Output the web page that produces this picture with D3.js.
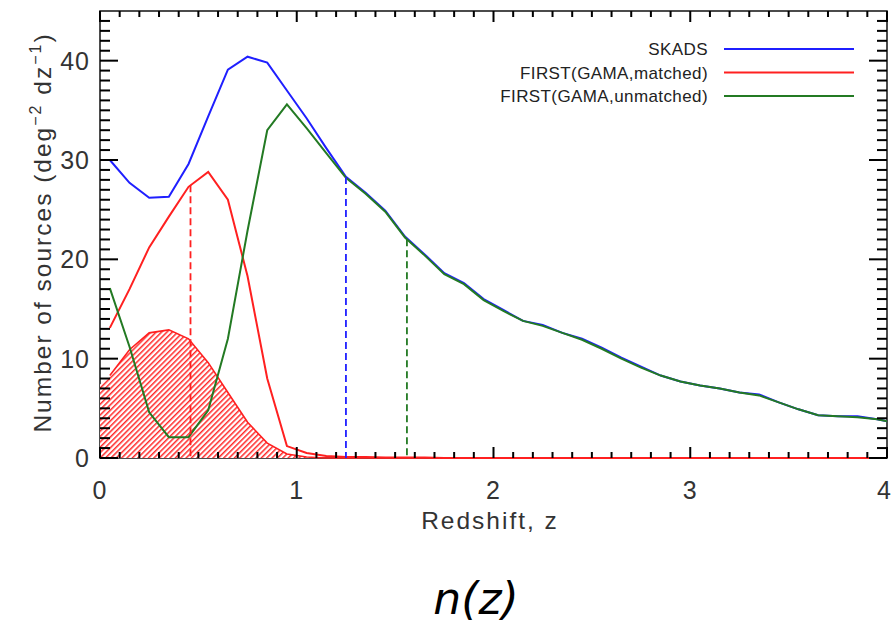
<!DOCTYPE html>
<html>
<head>
	<title>n(z)</title>
	<script src="https://d3js.org/d3.v7.min.js"></script>
	<style>
		body { margin: 0; background: #fff; }
		text { font-family: "Liberation Sans", Arial, sans-serif; fill: #333; }
		.tick-label { font-size: 25px; letter-spacing: 1px; }
		.axis-title { font-size: 24.5px; letter-spacing: 2px; }
		.legend text { font-size: 17px; letter-spacing: 0.4px; fill: #222; }
		#title { font-family: "DejaVu Sans", Verdana, sans-serif; font-style: italic; font-size: 44px; fill: #000; }
	</style>
</head>
<body>
	<div id="chart"></div>

	<script>

		// redshift bin centres
		var zBins = [0.05, 0.15, 0.25, 0.35, 0.45, 0.55, 0.65, 0.75, 0.85, 0.95,
			1.05, 1.15, 1.25, 1.35, 1.45, 1.55, 1.65, 1.75, 1.85, 1.95,
			2.05, 2.15, 2.25, 2.35, 2.45, 2.55, 2.65, 2.75, 2.85, 2.95,
			3.05, 3.15, 3.25, 3.35, 3.45, 3.55, 3.65, 3.75, 3.85, 3.95, 4.05];

		var skads = [30.0, 27.7, 26.2, 26.3, 29.6, 34.4, 39.1, 40.4, 39.8, 37.0,
			34.2, 31.2, 28.3, 26.7, 24.9, 22.3, 20.5, 18.6, 17.6, 16.0,
			14.9, 13.8, 13.4, 12.6, 12.0, 11.1, 10.1, 9.2, 8.3, 7.7,
			7.3, 7.0, 6.6, 6.4, 5.6, 4.9, 4.3, 4.2, 4.2, 3.9, 3.5];

		var matched = [13.1, 17.0, 21.2, 24.3, 27.3, 28.8, 26.0, 18.3, 8.0, 1.2,
			0.5, 0.2, 0.1, 0.1, 0.05, 0.05, 0.05, 0, 0, 0,
			0, 0, 0, 0, 0, 0, 0, 0, 0, 0,
			0, 0, 0, 0, 0, 0, 0, 0, 0, 0, 0];

		var unmatched = [17.1, 11.2, 4.6, 2.1, 2.1, 4.8, 12.0, 22.9, 33.0, 35.6,
			33.2, 30.7, 28.2, 26.6, 24.8, 22.2, 20.4, 18.5, 17.5, 15.9,
			14.8, 13.8, 13.3, 12.6, 11.9, 11.0, 10.0, 9.1, 8.3, 7.7,
			7.3, 7.0, 6.6, 6.3, 5.6, 4.9, 4.3, 4.2, 4.1, 3.9, 3.5];

		// hatched distribution (starts at the axis)
		var hatchZ = [0.0, 0.05, 0.15, 0.25, 0.35, 0.45, 0.55, 0.65, 0.75, 0.85, 0.95, 1.05, 1.15, 4.05];
		var hatched = [7.4, 8.3, 10.9, 12.6, 12.9, 12.0, 9.6, 6.6, 3.6, 1.5, 0.4, 0.1, 0.0, 0.0];

		// median markers, same order as the series
		var medianZ = [1.25, 0.46, 1.56];

		var seriesNames = ["SKADS", "FIRST(GAMA,matched)", "FIRST(GAMA,unmatched)"];
		var seriesValues = [skads, matched, unmatched];
		var colors = ["#1f1fff", "#ff2020", "#237a23"];

		var xTicks = [0, 1, 2, 3, 4];
		var yTicks = [0, 10, 20, 30, 40];
		var xMinorTicks = [0.1, 0.2, 0.3, 0.4, 0.5, 0.6, 0.7, 0.8, 0.9, 1.1, 1.2, 1.3, 1.4, 1.5, 1.6, 1.7, 1.8, 1.9,
			2.1, 2.2, 2.3, 2.4, 2.5, 2.6, 2.7, 2.8, 2.9, 3.1, 3.2, 3.3, 3.4, 3.5, 3.6, 3.7, 3.8, 3.9];
		var yMinorTicks = [1, 2, 3, 4, 5, 6, 7, 8, 9, 11, 12, 13, 14, 15, 16, 17, 18, 19, 21, 22, 23, 24, 25, 26, 27, 28, 29,
			31, 32, 33, 34, 35, 36, 37, 38, 39, 41, 42, 43, 44];

		var W = 892, H = 628;
		var margin = {top: 11, right: 5, bottom: 170, left: 100};
		var width = W - margin.left - margin.right,
			height = H - margin.top - margin.bottom;

		var svg = d3.select("#chart").append("svg")
			.attr("width", W)
			.attr("height", H);

		var defs = svg.append("defs");
		defs.append("clipPath").attr("id", "plot-clip")
			.append("rect").attr("y", -2).attr("width", width).attr("height", height + 4);

		// diagonal hatch
		var pat = defs.append("pattern")
			.attr("id", "hatch")
			.attr("patternUnits", "userSpaceOnUse")
			.attr("width", 3.8).attr("height", 10)
			.attr("patternTransform", "rotate(45)");
		pat.append("rect").attr("width", 3.8).attr("height", 10).attr("fill", "#fff");
		pat.append("rect").attr("width", 1.5).attr("height", 10).attr("fill", "#ff2a2a");

		var g = svg.append("g")
			.attr("transform", "translate(" + margin.left + "," + margin.top + ")");

		var x = d3.scaleLinear().domain([0, 4]).range([0, 787]);
		var y = d3.scaleLinear().domain([0, 45]).range([height, 0]);

		// frame first, so the red zero line sits on top of the x axis
		g.append("rect")
			.attr("width", width).attr("height", height)
			.attr("fill", "none")
			.attr("stroke", "#111")
			.attr("stroke-width", 1.5);

		var plot = g.append("g").attr("clip-path", "url(#plot-clip)");

		// hatched area
		var hatchData = hatchZ.map(function (z, i) { return {z: z, v: hatched[i]}; });
		plot.append("path")
			.datum(hatchData)
			.attr("fill", "url(#hatch)")
			.attr("d", d3.area()
				.x(function (d) { return x(d.z); })
				.y0(y(0))
				.y1(function (d) { return y(d.v); }));

		var valueLine = d3.line()
			.x(function (d) { return x(d.z); })
			.y(function (d) { return y(d.v); });

		plot.append("path")
			.datum(hatchData.slice(1))
			.attr("fill", "none")
			.attr("stroke", colors[1])
			.attr("stroke-width", 1.6)
			.attr("d", valueLine);

		// curves
		seriesValues.forEach(function (vals, i) {
			var data = zBins.map(function (z, j) { return {z: z, v: vals[j]}; });
			plot.append("path")
				.datum(data)
				.attr("fill", "none")
				.attr("stroke", colors[i])
				.attr("stroke-width", 2)
				.attr("d", valueLine);
		});

		// dashed median lines, from curve down to axis
		medianZ.forEach(function (z, i) {
			var top = d3.scaleLinear().domain(zBins).range(seriesValues[i])(z);
			plot.append("line")
				.attr("x1", x(z)).attr("x2", x(z))
				.attr("y1", y(top)).attr("y2", y(0))
				.attr("stroke", colors[i])
				.attr("stroke-width", 1.8)
				.attr("stroke-dasharray", "7,4");
		});

		// IDL-style inward ticks on all four sides, as small filled bars
		var tickLayer = svg.append("g")
			.attr("transform", "translate(" + margin.left + "," + margin.top + ")");

		var xTickData = xTicks.map(function (v) { return {v: v, len: 11}; })
			.concat(xMinorTicks.map(function (v) { return {v: v, len: 6}; }));
		var yTickData = yTicks.map(function (v) { return {v: v, len: 18}; })
			.concat(yMinorTicks.map(function (v) { return {v: v, len: 10}; }));

		[0, height].forEach(function (edge) {
			tickLayer.selectAll(null).data(xTickData).enter().append("rect")
				.attr("x", function (d) { return x(d.v) - 1; })
				.attr("y", function (d) { return edge === 0 ? 0 : height - d.len; })
				.attr("width", 2)
				.attr("height", function (d) { return d.len; })
				.attr("fill", "#000");
		});
		[0, width].forEach(function (edge) {
			tickLayer.selectAll(null).data(yTickData).enter().append("rect")
				.attr("x", function (d) { return edge === 0 ? 0 : width - d.len; })
				.attr("y", function (d) { return y(d.v) - 1; })
				.attr("width", function (d) { return d.len; })
				.attr("height", 2)
				.attr("fill", "#000");
		});

		g.selectAll(".xl").data(xTicks).enter().append("text")
			.attr("class", "tick-label")
			.attr("x", function (d, i) { return i === xTicks.length - 1 ? x(d) + 5 : x(d); })
			.attr("y", height + 41)
			.attr("text-anchor", function (d, i) { return i === xTicks.length - 1 ? "end" : "middle"; })
			.text(function (d) { return d; });

		g.selectAll(".yl").data(yTicks).enter().append("text")
			.attr("class", "tick-label")
			.attr("x", -10)
			.attr("y", function (d) { return y(d) + 9; })
			.attr("text-anchor", "end")
			.text(function (d) { return d; });

		// axis titles
		g.append("text")
			.attr("class", "axis-title")
			.attr("x", 390)
			.attr("y", height + 71)
			.attr("text-anchor", "middle")
			.text("Redshift, z");

		var yt = g.append("text")
			.attr("class", "axis-title")
			.attr("text-anchor", "middle")
			.attr("transform", "translate(-49," + (height / 2 - 2) + ") rotate(-90)");
		yt.append("tspan").text("Number of sources (deg");
		yt.append("tspan").attr("dy", -10).style("font-size", "16px").text("\u22122");
		yt.append("tspan").attr("dy", 10).text("  dz");
		yt.append("tspan").attr("dy", -10).style("font-size", "16px").text("\u22121");
		yt.append("tspan").attr("dy", 10).text(")");

		// legend
		var legend = g.append("g").attr("class", "legend");
		seriesNames.forEach(function (name, i) {
			var ly = 38 + i * 23.5;
			legend.append("text")
				.attr("x", 608).attr("y", ly + 6)
				.attr("text-anchor", "end")
				.text(name);
			legend.append("line")
				.attr("x1", 624).attr("x2", 754)
				.attr("y1", ly).attr("y2", ly)
				.attr("stroke", colors[i])
				.attr("stroke-width", 2);
		});

		// caption
		svg.append("text")
			.attr("id", "title")
			.attr("x", 476)
			.attr("y", 614)
			.attr("text-anchor", "middle")
			.text("n(z)");

	</script>
</body>
</html>
